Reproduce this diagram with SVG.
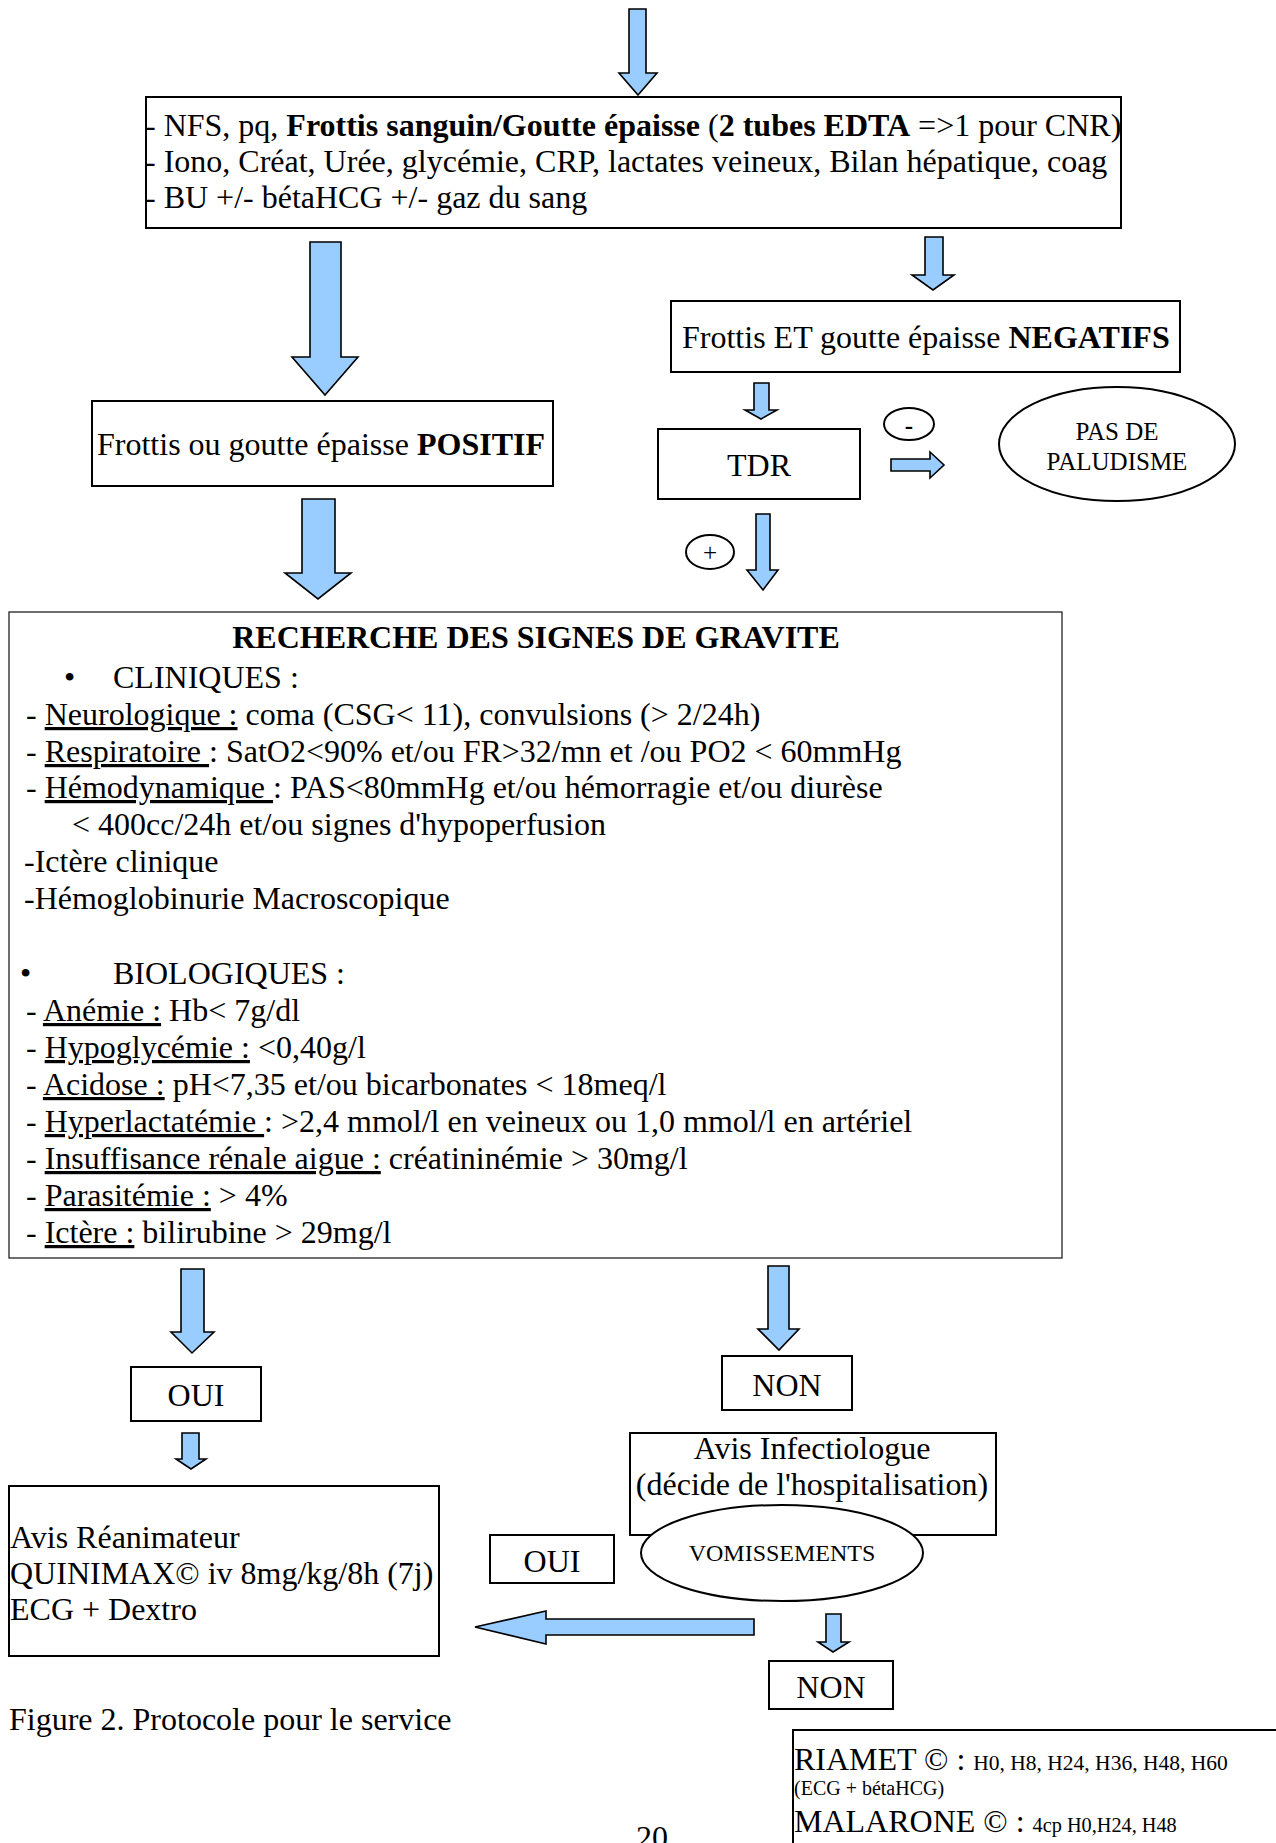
<svg xmlns="http://www.w3.org/2000/svg" width="1276" height="1843" viewBox="0 0 1276 1843">
<style>
text{font-family:"Liberation Serif","Times New Roman",serif;fill:#000}
.t{font-size:32px}
.s{font-size:25px}
.b{font-weight:bold}
.u{text-decoration:underline}
.box{fill:#fff;stroke:#000;stroke-width:2}
.thin{fill:#fff;stroke:#222;stroke-width:1.3}
.ell{fill:#fff;stroke:#000;stroke-width:2}
.arr{fill:#99ccff;stroke:#000;stroke-width:1.6;stroke-linejoin:miter}
.c{text-anchor:middle}
</style>
<rect width="1276" height="1843" fill="#fff"/>

<g id="connectors">
<path class="arr" d="M629,9 H646 V73 H657 L638,95 L619,73 H629 Z"/>
<path class="arr" d="M310,242 H341 V357 H358 L325,395 L292,357 H310 Z"/>
<path class="arr" d="M925,237 H943 V275 H954 L933,290 L912,275 H925 Z"/>
<path class="arr" d="M754,383 H769 V410 H777 L761,419 L745,410 H754 Z"/>
<path class="arr" d="M891,459 H930 V452 L944,465 L930,478 V471 H891 Z"/>
<path class="arr" d="M302,499 H335 V573 H351 L318,599 L285,573 H302 Z"/>
<path class="arr" d="M756,514 H770 V570 H778 L763,590 L747,570 H756 Z"/>
<path class="arr" d="M181,1269 H204 V1332 H214 L192,1353 L171,1332 H181 Z"/>
<path class="arr" d="M768,1266 H789 V1329 H799 L779,1350 L758,1329 H768 Z"/>
<path class="arr" d="M182,1433 H199 V1459 H206 L191,1469 L176,1459 H182 Z"/>
<path class="arr" d="M754,1619 V1635 H546 V1644 L475,1627 L546,1611 V1619 Z"/>
<path class="arr" d="M826,1614 H841 V1642 H849 L833,1652 L818,1642 H826 Z"/>
</g>

<g id="bilan">
<rect class="box" x="146" y="97" width="975" height="131"/>
<text class="t" x="145" y="136">- NFS, pq, <tspan class="b">Frottis sanguin/Goutte épaisse</tspan> (<tspan class="b">2 tubes EDTA</tspan> =&gt;1 pour CNR)</text>
<text class="t" x="145" y="172">- Iono, Créat, Urée, glycémie, CRP, lactates veineux, Bilan hépatique, coag</text>
<text class="t" x="145" y="208">- BU +/- bétaHCG +/- gaz du sang</text>
</g>

<g id="negatifs">
<rect class="box" x="671" y="301" width="509" height="71"/>
<text class="t" x="682" y="348">Frottis ET goutte épaisse <tspan class="b">NEGATIFS</tspan></text>
</g>

<g id="positif">
<rect class="box" x="92" y="401" width="461" height="85"/>
<text class="t" x="97" y="455">Frottis ou goutte épaisse <tspan class="b">POSITIF</tspan></text>
</g>

<g id="tdr">
<rect class="box" x="658" y="429" width="202" height="70"/>
<text class="t c" x="759" y="476">TDR</text>
</g>

<g id="moins">
<ellipse class="ell" cx="909" cy="424" rx="25" ry="16"/>
<text class="s c b" x="909" y="434">-</text>
</g>

<g id="plus">
<ellipse class="ell" cx="710" cy="552" rx="24" ry="17"/>
<text class="s c" x="710" y="561">+</text>
</g>

<g id="pas-de-paludisme">
<ellipse class="ell" cx="1117" cy="444" rx="118" ry="57"/>
<text class="s c" x="1117" y="440">PAS DE</text>
<text class="s c" x="1117" y="470">PALUDISME</text>
</g>

<g id="signes-gravite">
<rect class="thin" x="9" y="612" width="1053" height="646"/>
<text class="t c b" x="536" y="648">RECHERCHE DES SIGNES DE GRAVITE</text>
<text class="t" x="64" y="688">•</text>
<text class="t" x="113" y="688">CLINIQUES :</text>
<text class="t" x="26" y="725">- <tspan class="u">Neurologique :</tspan> coma (CSG&lt; 11), convulsions (&gt; 2/24h)</text>
<text class="t" x="26" y="762">- <tspan class="u">Respiratoire </tspan>: SatO2&lt;90% et/ou FR&gt;32/mn et /ou PO2 &lt; 60mmHg</text>
<text class="t" x="26" y="798">- <tspan class="u">Hémodynamique </tspan>: PAS&lt;80mmHg et/ou hémorragie et/ou diurèse</text>
<text class="t" x="72" y="835">&lt; 400cc/24h et/ou signes d'hypoperfusion</text>
<text class="t" x="24" y="872">-Ictère clinique</text>
<text class="t" x="24" y="909">-Hémoglobinurie Macroscopique</text>
<text class="t" x="20" y="984">•</text>
<text class="t" x="113" y="984">BIOLOGIQUES :</text>
<text class="t" x="26" y="1021">- <tspan class="u">Anémie :</tspan> Hb&lt; 7g/dl</text>
<text class="t" x="26" y="1058">- <tspan class="u">Hypoglycémie :</tspan> &lt;0,40g/l</text>
<text class="t" x="26" y="1095">- <tspan class="u">Acidose :</tspan> pH&lt;7,35 et/ou bicarbonates &lt; 18meq/l</text>
<text class="t" x="26" y="1132">- <tspan class="u">Hyperlactatémie </tspan>: &gt;2,4 mmol/l en veineux ou 1,0 mmol/l en artériel</text>
<text class="t" x="26" y="1169">- <tspan class="u">Insuffisance rénale aigue :</tspan> créatininémie &gt; 30mg/l</text>
<text class="t" x="26" y="1206">- <tspan class="u">Parasitémie :</tspan> &gt; 4%</text>
<text class="t" x="26" y="1243">- <tspan class="u">Ictère :</tspan> bilirubine &gt; 29mg/l</text>
</g>

<g id="oui-1">
<rect class="box" x="131" y="1367" width="130" height="54"/>
<text class="t c" x="196" y="1406">OUI</text>
</g>

<g id="non-1">
<rect class="box" x="722" y="1356" width="130" height="54"/>
<text class="t c" x="787" y="1396">NON</text>
</g>

<g id="avis-infectiologue">
<rect class="box" x="630" y="1433" width="366" height="102"/>
<text class="t c" x="812" y="1459">Avis Infectiologue</text>
<text class="t c" x="812" y="1495">(décide de l'hospitalisation)</text>
</g>

<g id="vomissements">
<ellipse class="ell" cx="782" cy="1553" rx="141" ry="48"/>
<text class="c" style="font-size:24px" x="782" y="1561">VOMISSEMENTS</text>
</g>

<g id="oui-2">
<rect class="box" x="490" y="1535" width="124" height="48"/>
<text class="t c" x="552" y="1572">OUI</text>
</g>

<g id="avis-reanimateur">
<rect class="box" x="9" y="1486" width="430" height="170"/>
<text class="t" x="10" y="1548">Avis Réanimateur</text>
<text class="t" x="10" y="1584">QUINIMAX© iv 8mg/kg/8h (7j)</text>
<text class="t" x="10" y="1620">ECG + Dextro</text>
</g>

<g id="non-2">
<rect class="box" x="769" y="1661" width="124" height="48"/>
<text class="t c" x="831" y="1698">NON</text>
</g>

<g id="traitement">
<rect class="box" x="793" y="1730" width="500" height="140"/>
<text x="794" y="1770"><tspan class="t">RIAMET © : </tspan><tspan style="font-size:21.5px">H0, H8, H24, H36, H48, H60</tspan></text>
<text style="font-size:20px" x="794" y="1795">(ECG + bétaHCG)</text>
<text x="794" y="1832"><tspan class="t">MALARONE © : </tspan><tspan style="font-size:20.3px">4cp H0,H24, H48</tspan></text>
</g>

<g id="legende">
<text class="t" x="9" y="1730">Figure 2. Protocole pour le service</text>
<text class="t c" x="652" y="1848">20</text>
</g>
</svg>
